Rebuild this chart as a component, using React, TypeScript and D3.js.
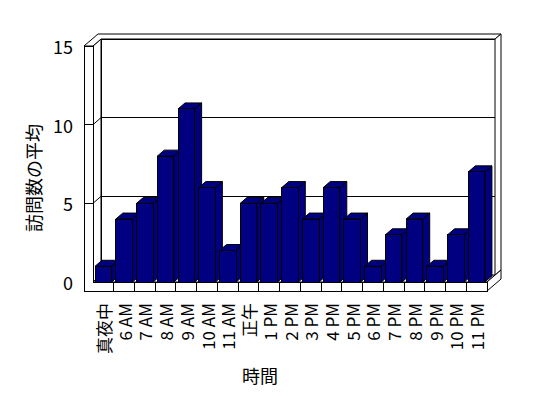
import React from "react";
import * as d3 from "d3";

const categories = ["真夜中", "6 AM", "7 AM", "8 AM", "9 AM", "10 AM", "11 AM", "正午", "1 PM", "2 PM", "3 PM", "4 PM", "5 PM", "6 PM", "7 PM", "8 PM", "9 PM", "10 PM", "11 PM"];
const visits = [1, 4, 5, 8, 11, 6, 2, 5, 5, 6, 4, 6, 4, 1, 3, 4, 1, 3, 7];
const yTicks = [0, 5, 10, 15];
const yTitle = "訪問数の平均";
const xTitle = "時間";

const W = 548, H = 398;
const FONT = "'Noto Sans CJK JP', 'Noto Sans', sans-serif";

export default function App() {
  const x0 = 93, x1 = 487; // front plane floor extent
  const yBot = 282, yTop = 46;
  const wallX = 84; // outer front-left of wall slab
  const floorBot = 291;
  const D1 = [8, -7]; // back wall inner depth
  const D2 = [14, -12]; // back wall outer depth
  const BD = [7, -6]; // bar depth

  const x = d3.scaleBand<string>().domain(categories).range([x0, x1]).paddingInner(0.2).paddingOuter(0.1);
  const y = d3.scaleLinear().domain([0, 15]).range([yBot, yTop]);
  const step = x.step();

  const pts = (p: number[][]) => p.map((q) => q.join(",")).join(" ");
  const stroke = { stroke: "#000", strokeWidth: 1, fill: "#fff" };

  return (
    <svg width={W} height={H} style={{ position: "absolute", left: 0, top: 0, background: "#fff" }} fontFamily={FONT}>
      <rect x={0} y={0} width={W} height={H} fill="#fff" />
      {/* back wall */}
      <rect x={x0 + D1[0]} y={yTop + D1[1]} width={x1 - x0} height={yBot - yTop} {...stroke} shapeRendering="crispEdges" />
      {yTicks.filter((t) => t > 0 && t < 15).map((t) => (
        <line key={"g" + t} x1={x0 + D1[0]} x2={x1 + D1[0]} y1={y(t) + D1[1]} y2={y(t) + D1[1]} stroke="#000" shapeRendering="crispEdges" />
      ))}
      {/* left wall inner face */}
      <polygon points={pts([[x0, yTop], [x0 + D1[0], yTop + D1[1]], [x0 + D1[0], yBot + D1[1]], [x0, yBot]])} {...stroke} />
      {yTicks.filter((t) => t > 0 && t < 15).map((t) => (
        <line key={"lw" + t} x1={x0} x2={x0 + D1[0]} y1={y(t)} y2={y(t) + D1[1]} stroke="#000" />
      ))}
      {/* floor top */}
      <polygon points={pts([[x0, yBot], [x0 + D1[0], yBot + D1[1]], [x1 + D1[0], yBot + D1[1]], [x1, yBot]])} {...stroke} />
      {/* top slab */}
      <polygon points={pts([[wallX, yTop], [x0, yTop], [x0 + D1[0], yTop + D1[1]], [x1 + D1[0], yTop + D1[1]], [x1 + D2[0], yTop + D2[1]], [wallX + D2[0], yTop + D2[1]]])} {...stroke} />
      {/* back wall right face */}
      <polygon points={pts([[x1 + D1[0], yTop + D1[1]], [x1 + D2[0], yTop + D2[1]], [x1 + D2[0], yBot + D2[1]], [x1 + D1[0], yBot + D1[1]]])} {...stroke} />
      {/* floor right face */}
      <polygon points={pts([[x1, yBot], [x1, floorBot], [x1 + D2[0], floorBot + D2[1]], [x1 + D2[0], yBot + D2[1]]])} {...stroke} />
      {/* front L face */}
      <polygon points={pts([[wallX, yTop], [x0, yTop], [x0, yBot], [x1, yBot], [x1, floorBot], [wallX, floorBot]])} {...stroke} shapeRendering="crispEdges" />
      {yTicks.filter((t) => t > 0 && t < 15).map((t) => (
        <line key={"tk" + t} x1={wallX} x2={x0} y1={y(t)} y2={y(t)} stroke="#000" shapeRendering="crispEdges" />
      ))}
      {categories.slice(1).map((c, i) => {
        const bx = x0 + (i + 1) * step;
        return <line key={"div" + c} x1={bx} x2={bx} y1={yBot} y2={floorBot} stroke="#000" shapeRendering="crispEdges" />;
      })}
      {/* bars */}
      {categories.map((c, i) => {
        const bx = x(c)!;
        const bw = x.bandwidth();
        const top = y(visits[i]);
        return (
          <g key={"bar" + c} stroke="#000" strokeWidth={1} fill="#000080">
            <polygon points={pts([[bx + bw, top], [bx + bw + BD[0], top + BD[1]], [bx + bw + BD[0], yBot + BD[1]], [bx + bw, yBot]])} />
            <polygon points={pts([[bx, top], [bx + BD[0], top + BD[1]], [bx + bw + BD[0], top + BD[1]], [bx + bw, top]])} />
            <rect x={bx} y={top} width={bw} height={yBot - top} shapeRendering="crispEdges" />
          </g>
        );
      })}
      {/* y tick labels */}
      {yTicks.map((t) => (
        <text key={"yl" + t} x={73} y={y(t)} textAnchor="end" dominantBaseline="central" fontSize={18} fill="#000">{t}</text>
      ))}
      {/* category labels */}
      {categories.map((c) => (
        <text key={"cl" + c} transform={`translate(${x(c)! + x.bandwidth() / 2},303) rotate(-90)`} textAnchor="end" dominantBaseline="central" fontSize={17} fill="#000">{c}</text>
      ))}
      <text transform="translate(33,178) rotate(-90)" textAnchor="middle" dominantBaseline="central" fontSize={18} fill="#000">{yTitle}</text>
      <text x={260} y={375} textAnchor="middle" dominantBaseline="central" fontSize={18} fill="#000">{xTitle}</text>
    </svg>
  );
}
